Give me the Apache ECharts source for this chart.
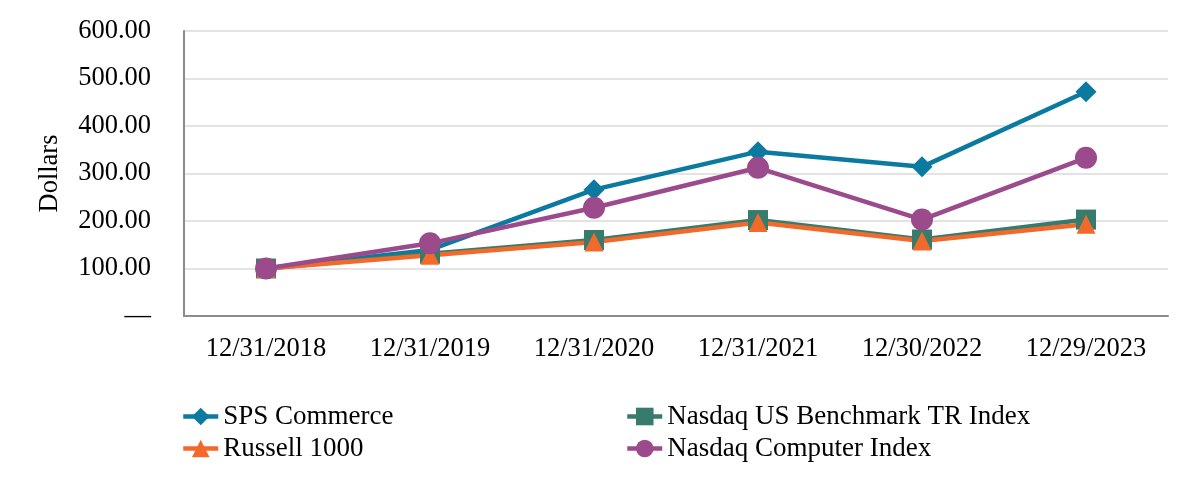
<!DOCTYPE html>
<html>
<head>
<meta charset="utf-8">
<script src="https://cdn.jsdelivr.net/npm/echarts@6/dist/echarts.min.js"></script>
<style>html,body{margin:0;padding:0;background:#fff;}#c{width:1200px;height:500px;}</style>
</head>
<body>
<div id="c"></div>
<script>
var categories = ['12/31/2018','12/31/2019','12/31/2020','12/31/2021','12/30/2022','12/29/2023'];
var spsCommerce = [100, 139, 266, 346, 314, 472];
var nasdaqUSBenchmark = [100, 131, 160, 202, 161, 203];
var russell1000 = [100, 128, 156, 197, 158, 193];
var nasdaqComputer = [100, 153, 228, 312, 203, 333];
var yTicks = [0, 100, 200, 300, 400, 500, 600];

var FONT = '"Liberation Serif", "Times New Roman", serif';
var chart = echarts.init(document.getElementById('c'));
function mk(name, data, color, symbol, size) {
  return {
    name: name, type: 'line', data: data,
    symbol: symbol, symbolSize: size,
    lineStyle: { color: color, width: 4.5 },
    itemStyle: { color: color },
    animation: false
  };
}
var legendCommon = { orient: 'vertical', itemWidth: 35, itemHeight: 22, itemGap: 5,
  lineStyle: { width: 4.5 },
  textStyle: { fontFamily: FONT, fontSize: 27, color: '#000' } };
chart.setOption({
  animation: false,
  grid: { left: 184, right: 32, top: 31, bottom: 184 },
  xAxis: {
    type: 'category', data: categories, boundaryGap: true,
    axisLine: { lineStyle: { color: '#8c8c8c', width: 2 } },
    axisTick: { alignWithLabel: true, length: 10, lineStyle: { color: '#8c8c8c', width: 1.5 } },
    axisLabel: { fontFamily: FONT, fontSize: 26.5, color: '#000', margin: 20 }
  },
  yAxis: {
    type: 'value', min: yTicks[0], max: yTicks[yTicks.length-1], interval: 100,
    name: 'Dollars', nameLocation: 'middle', nameGap: 120,
    nameTextStyle: { fontFamily: FONT, fontSize: 26.5, color: '#000' },
    axisLine: { show: true, lineStyle: { color: '#8c8c8c', width: 2 } },
    axisTick: { show: false },
    splitLine: { lineStyle: { color: '#e3e3e3', width: 2 } },
    axisLabel: { fontFamily: FONT, fontSize: 26.5, color: '#000', margin: 33,
      formatter: function (v) { return v === 0 ? '\u2014' : v.toFixed(2); } }
  },
  legend: [
    Object.assign({ left: 176, top: 398, data: ['SPS Commerce', 'Russell 1000'] }, legendCommon),
    Object.assign({ left: 620, top: 398, data: ['Nasdaq US Benchmark TR Index', 'Nasdaq Computer Index'] }, legendCommon)
  ],
  series: [
    mk('SPS Commerce', spsCommerce, '#0b7aa1', 'diamond', 21),
    mk('Nasdaq US Benchmark TR Index', nasdaqUSBenchmark, '#377b6c', 'rect', 20),
    mk('Russell 1000', russell1000, '#f26a2b', 'triangle', 19),
    mk('Nasdaq Computer Index', nasdaqComputer, '#9b4b8b', 'circle', 22)
  ]
});
</script>
</body>
</html>
